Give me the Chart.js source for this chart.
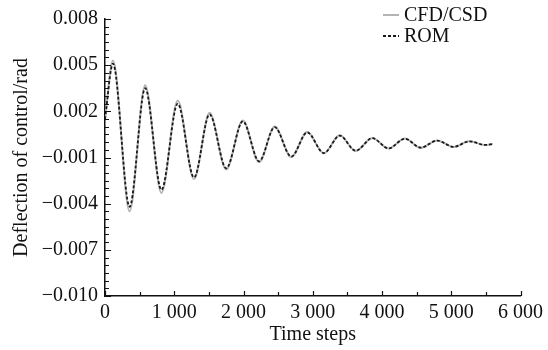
<!DOCTYPE html>
<html>
<head>
<meta charset="utf-8">
<script src="https://cdn.jsdelivr.net/npm/chart.js@4/dist/chart.umd.min.js"></script>
<style>
  html, body { margin: 0; padding: 0; background: #fff; }
  #wrap { width: 548px; height: 350px; position: relative; }
</style>
</head>
<body>
<div id="wrap"><canvas id="deflectionChart"></canvas></div>
<script>
// Time steps at the start, at each turning point and at the end of the run
const steps = [0, 115, 355, 580, 815, 1050, 1285, 1510, 1750, 1990, 2225, 2450, 2690,
    2920, 3160, 3390, 3620, 3860, 4095, 4330, 4560, 4795, 5035, 5260, 5490, 5600];

// Control deflection, rad
const cfdCsd = [0.0015, 0.0053, -0.0045, 0.0037, -0.0033, 0.0027, -0.0024, 0.0019, -0.00178,
    0.0014, -0.0013, 0.00101, -0.00097, 0.00066, -0.00073, 0.00044, -0.00058, 0.00027,
    -0.00042, 0.00023, -0.00037, 0.00011, -0.00032, 0.00006, -0.00019, -0.00012];
const rom = [0.0015, 0.0051, -0.0042, 0.0035, -0.0031, 0.0025, -0.0023, 0.0018, -0.0017,
    0.00135, -0.00125, 0.00097, -0.00094, 0.00063, -0.00071, 0.00042, -0.00056, 0.00026,
    -0.00041, 0.00022, -0.00036, 0.00010, -0.00031, 0.00005, -0.00018, -0.00012];

const seriesNames = ['CFD/CSD', 'ROM'];
const xTickLabels = ['0', '1 000', '2 000', '3 000', '4 000', '5 000', '6 000'];
const yTickLabels = ['−0.010', '−0.007', '−0.004', '−0.001', '0.002', '0.005', '0.008'];

const serif = '"Liberation Serif", "Times New Roman", serif';
const fontSize = 20;
const toPoints = vals => steps.map((s, i) => ({ x: s, y: vals[i] }));

// small inward ticks on both axes, longer at labelled values
const inwardTicks = {
    id: 'inwardTicks',
    afterDatasetsDraw(chart) {
        const { ctx, chartArea, scales: { x, y } } = chart;
        ctx.save();
        ctx.strokeStyle = '#111';
        ctx.lineWidth = 1.2;
        ctx.beginPath();
        x.ticks.forEach(t => {
            const px = Math.round(x.getPixelForValue(t.value)) + 0.5;
            const len = Math.round(t.value) % 1000 === 0 ? 5 : 4;
            ctx.moveTo(px, chartArea.bottom);
            ctx.lineTo(px, chartArea.bottom - len);
        });
        y.ticks.forEach(t => {
            const py = Math.round(y.getPixelForValue(t.value)) + 0.5;
            const idx = Math.round((t.value + 0.010) / 0.0005);
            const len = idx % 6 === 0 ? 6 : 4;
            ctx.moveTo(chartArea.left, py);
            ctx.lineTo(chartArea.left + len, py);
        });
        ctx.stroke();
        ctx.restore();
    }
};

// legend in the upper right corner
const cornerLegend = {
    id: 'cornerLegend',
    afterDraw(chart) {
        const { ctx } = chart;
        ctx.save();
        ctx.font = fontSize + 'px ' + serif;
        ctx.textBaseline = 'middle';
        chart.data.datasets.forEach((ds, i) => {
            const y = 15 + i * 21;
            ctx.strokeStyle = ds.borderColor;
            ctx.lineWidth = ds.borderWidth;
            ctx.setLineDash(ds.borderDash || []);
            ctx.beginPath();
            ctx.moveTo(383, y);
            ctx.lineTo(399, y);
            ctx.stroke();
            ctx.setLineDash([]);
            ctx.fillStyle = '#111';
            ctx.fillText(ds.label, 404, y + 1);
        });
        ctx.restore();
    }
};

new Chart(document.getElementById('deflectionChart').getContext('2d'), {
    type: 'line',
    data: {
        datasets: [{
            label: seriesNames[0],
            data: toPoints(cfdCsd),
            borderColor: '#b4b4b4',
            borderWidth: 2,
            pointRadius: 0,
            order: 1,
            cubicInterpolationMode: 'monotone'
        }, {
            label: seriesNames[1],
            data: toPoints(rom),
            borderColor: '#1a1a1a',
            borderWidth: 1.8,
            borderDash: [3, 2],
            pointRadius: 0,
            order: 0,
            cubicInterpolationMode: 'monotone'
        }]
    },
    options: {
        responsive: true,
        maintainAspectRatio: false,
        animation: false,
        layout: { padding: { left: 0, top: 17, right: 26, bottom: 0 } },
        plugins: {
            legend: { display: false },
            tooltip: { enabled: false }
        },
        scales: {
            x: {
                type: 'linear',
                min: 0,
                max: 6000,
                border: { display: true, color: '#111', width: 1.5 },
                grid: { display: false, drawTicks: false },
                ticks: {
                    stepSize: 500,
                    autoSkip: false,
                    maxRotation: 0,
                    padding: 5,
                    color: '#111',
                    font: { family: serif, size: fontSize },
                    callback: v => (Math.round(v) % 1000 === 0 ? xTickLabels[Math.round(v) / 1000] : '')
                },
                title: {
                    display: true,
                    text: 'Time steps',
                    color: '#111',
                    font: { family: serif, size: fontSize },
                    padding: { top: 0, bottom: 3 }
                },
                afterFit: scale => { scale.height = 54; }
            },
            y: {
                min: -0.010,
                max: 0.008,
                border: { display: true, color: '#111', width: 1.5 },
                grid: { display: false, drawTicks: false },
                ticks: {
                    stepSize: 0.0005,
                    autoSkip: false,
                    padding: 7,
                    color: '#111',
                    font: { family: serif, size: fontSize },
                    callback: v => {
                        const idx = Math.round((v + 0.010) / 0.0005);
                        return idx % 6 === 0 ? yTickLabels[idx / 6] : '';
                    }
                },
                title: {
                    display: true,
                    text: 'Deflection of control/rad',
                    color: '#111',
                    font: { family: serif, size: fontSize },
                    padding: { top: 10, bottom: 0 }
                },
                afterFit: scale => { scale.width = 105; }
            }
        }
    },
    plugins: [inwardTicks, cornerLegend]
});
</script>
</body>
</html>
